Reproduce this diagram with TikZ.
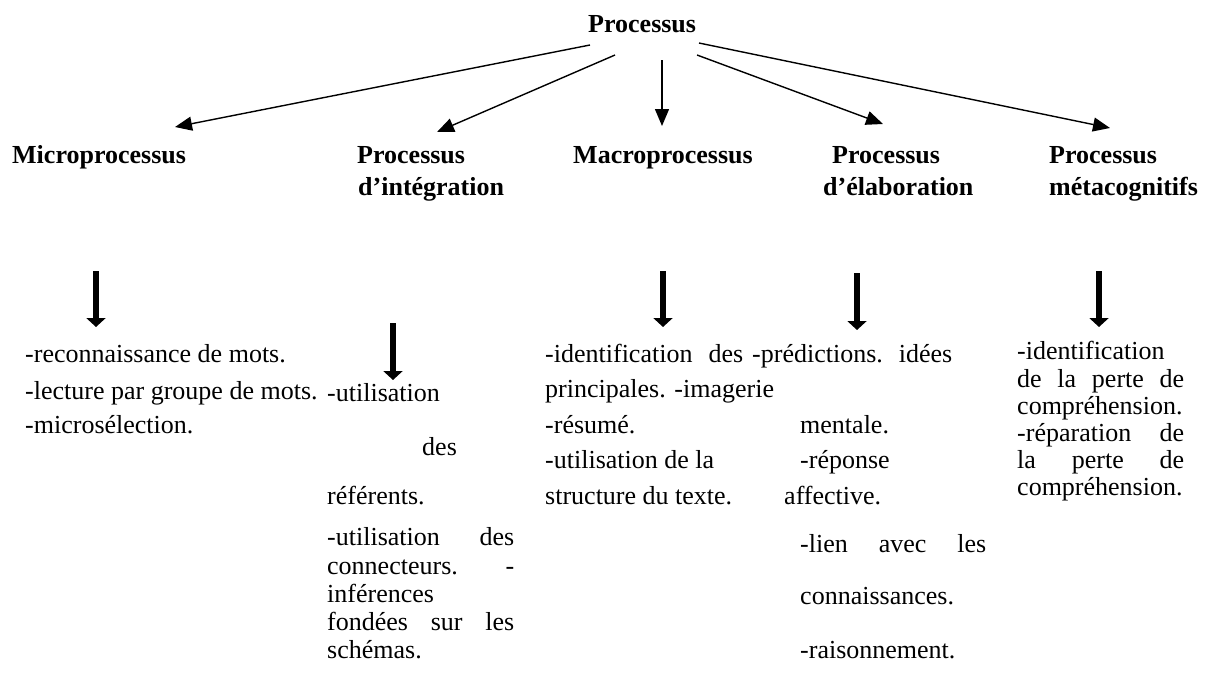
\documentclass[tikz,border=0pt]{standalone}
\usepackage{fontspec}
\setmainfont{Liberation Serif}
\usetikzlibrary{arrows.meta}
\begin{document}
\begin{tikzpicture}[x=1pt,y=-1pt,
  txt/.style={anchor=base west, inner sep=0pt, font=\fontsize{26}{30}\selectfont},
  head/.style={anchor=base west, inner sep=0pt, font=\fontsize{26}{30}\selectfont\bfseries},
  thinarrow/.style={line width=1.4pt, -{Triangle[length=17pt,width=14pt]}},
  fatarrow/.style={line width=6.5pt, -{Triangle[length=9pt,width=19pt]}}]
\useasboundingbox (0,0) rectangle (1212,686);

% headings
\node[head] (title) at (588,32) {Processus};
\node[head] (micro) at (12,163) {Microprocessus};
\node[head] (integA) at (357,163) {Processus};
\node[head] (integB) at (358,195) {d’intégration};
\node[head] (macro) at (573,163) {Macroprocessus};
\node[head] (elabA) at (832,163) {Processus};
\node[head] (elabB) at (823,195) {d’élaboration};
\node[head] (metaA) at (1049,163) {Processus};
\node[head] (metaB) at (1049,195) {métacognitifs};

% arrows from the title
\coordinate (s1) at (590,45);  \coordinate (t1) at (175,127);
\coordinate (s2) at (615,55);  \coordinate (t2) at (437,132);
\coordinate (s3) at (662,60);  \coordinate (t3) at (662,126);
\coordinate (s4) at (697,55);  \coordinate (t4) at (883,124);
\coordinate (s5) at (699,43);  \coordinate (t5) at (1110,128);
\draw[thinarrow] (s1) -- (t1);
\draw[thinarrow] (s2) -- (t2);
\draw[thinarrow] (s3) -- (t3);
\draw[thinarrow] (s4) -- (t4);
\draw[thinarrow] (s5) -- (t5);

% bold down arrows
\coordinate (m0) at (96,271);   \coordinate (m1) at (96,327);
\coordinate (i0) at (393,323);  \coordinate (i1) at (393,380);
\coordinate (a0) at (663,271);  \coordinate (a1) at (663,327);
\coordinate (e0) at (857,273);  \coordinate (e1) at (857,330);
\coordinate (g0) at (1099,271); \coordinate (g1) at (1099,327);
\draw[fatarrow] (m0) -- (m1);
\draw[fatarrow] (i0) -- (i1);
\draw[fatarrow] (a0) -- (a1);
\draw[fatarrow] (e0) -- (e1);
\draw[fatarrow] (g0) -- (g1);

% micro column
\node[txt] (mi1) at (25,362) {-reconnaissance de mots.};
\node[txt] (mi2) at (25,399) {-lecture par groupe de mots.};
\node[txt] (mi3) at (25,433) {-microsélection.};

% integration column
\node[txt] (in1) at (327,401) {-utilisation};
\node[txt] (in2) at (422,455) {des};
\node[txt] (in3) at (327,504) {référents.};
\node[txt] (in4) at (327,545) {\makebox[187pt][s]{-utilisation des}};
\node[txt] (in5) at (327,574) {\makebox[187pt][s]{connecteurs. -}};
\node[txt] (in6) at (327,602) {inférences};
\node[txt] (in7) at (327,630) {\makebox[187pt][s]{fondées sur les}};
\node[txt] (in8) at (327,658) {schémas.};

% macro column
\node[txt] (ma1) at (545,362) {\makebox[198pt][s]{-identification des}};
\node[txt] (ma2) at (545,397) {principales. -imagerie};
\node[txt] (ma3) at (545,433) {-résumé.};
\node[txt] (ma4) at (545,468) {-utilisation de la};
\node[txt] (ma5) at (545,504) {structure du texte.};

% elaboration column
\node[txt] (el1) at (752,362) {\makebox[200pt][s]{-prédictions. idées}};
\node[txt] (el2) at (800,433) {mentale.};
\node[txt] (el3) at (800,468) {-réponse};
\node[txt] (el4) at (784,504) {affective.};
\node[txt] (el5) at (800,552) {\makebox[186pt][s]{-lien avec les}};
\node[txt] (el6) at (800,604) {connaissances.};
\node[txt] (el7) at (800,658) {-raisonnement.};

% metacognitive column
\node[txt] (me1) at (1017,359) {-identification};
\node[txt] (me2) at (1017,387) {\makebox[167pt][s]{de la perte de}};
\node[txt] (me3) at (1017,414) {compréhension.};
\node[txt] (me4) at (1017,441) {\makebox[167pt][s]{-réparation de}};
\node[txt] (me5) at (1017,468) {\makebox[167pt][s]{la perte de}};
\node[txt] (me6) at (1017,495) {compréhension.};
\end{tikzpicture}
\end{document}
